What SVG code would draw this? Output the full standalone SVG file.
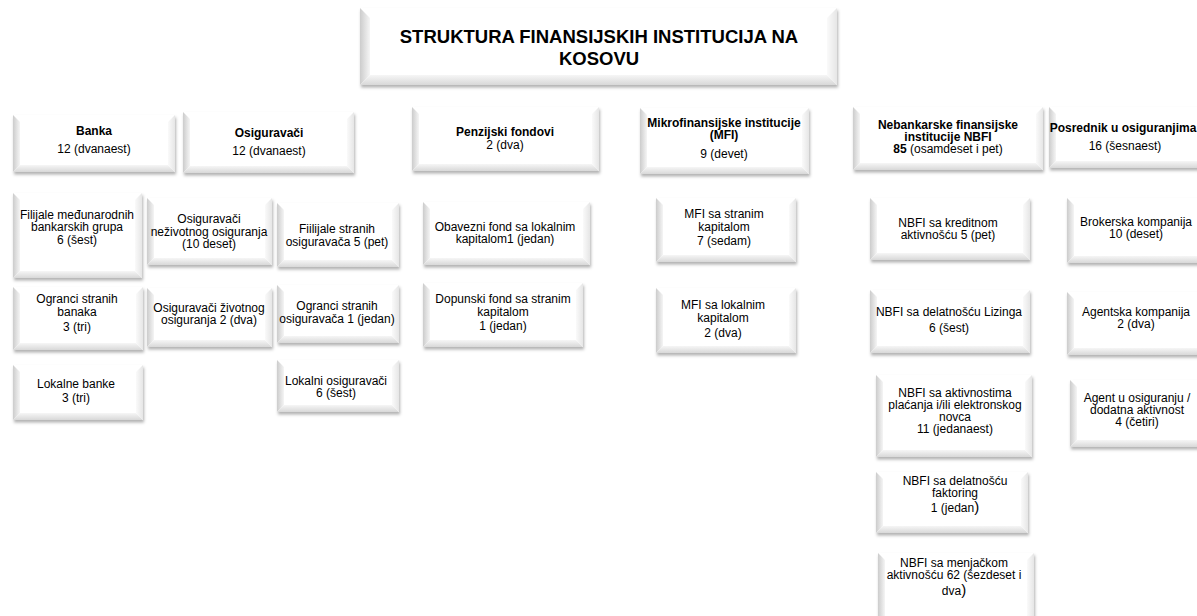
<svg xmlns="http://www.w3.org/2000/svg" width="1197" height="616" viewBox="0 0 1197 616">
<style>
.box{fill:#ffffff;filter:url(#sh)}
.bl{fill:url(#gl)}
.bb{fill:url(#gb)}
.br{fill:url(#gr)}
text{font-family:"Liberation Sans",Arial,sans-serif;font-size:12px;text-anchor:middle;fill:#000}
.b{font-weight:bold}
.ttl{font-size:18.5px;font-weight:bold}
.big{font-size:15px}
</style>
<defs>
<filter id="sh" x="-10%" y="-10%" width="125%" height="135%">
<feDropShadow dx="1" dy="2.5" stdDeviation="1.5" flood-color="#000" flood-opacity="0.3"/>
</filter>
<linearGradient id="gl" x1="0" y1="0" x2="1" y2="0"><stop offset="0" stop-color="#cccccc"/><stop offset="1" stop-color="#f5f5f5"/></linearGradient>
<linearGradient id="gb" x1="0" y1="0" x2="0" y2="1"><stop offset="0" stop-color="#f6f6f6"/><stop offset="1" stop-color="#d8d8d8"/></linearGradient>
<linearGradient id="gr" x1="0" y1="0" x2="1" y2="0"><stop offset="0" stop-color="#fafafa"/><stop offset="1" stop-color="#e6e6e6"/></linearGradient>
</defs>
<rect width="1197" height="616" fill="#ffffff"/>
<g id="connectors"></g>

<g id="title">
<rect class="box" x="360" y="8" width="477" height="77"/>
<polygon class="bl" points="360,8 370,18 370,75 360,85"/>
<polygon class="bb" points="360,85 370,75 827,75 837,85"/>
<polygon class="br" points="837,8 827,18 827,75 837,85"/>
<text class="ttl" x="599" y="43">STRUKTURA FINANSIJSKIH INSTITUCIJA NA</text>
<text class="ttl" x="599" y="65">KOSOVU</text>
</g>

<g id="banka">
<rect class="box" x="13" y="115" width="162" height="57"/>
<polygon class="bl" points="13,115 20,122 20,165 13,172"/>
<polygon class="bb" points="13,172 20,165 168,165 175,172"/>
<polygon class="br" points="175,115 168,122 168,165 175,172"/>
<text class="b" x="94" y="135">Banka</text>
<text x="94" y="153">12 (dvanaest)</text>
</g>

<g id="osiguravaci">
<rect class="box" x="183" y="112" width="171" height="61"/>
<polygon class="bl" points="183,112 190,119 190,166 183,173"/>
<polygon class="bb" points="183,173 190,166 347,166 354,173"/>
<polygon class="br" points="354,112 347,119 347,166 354,173"/>
<text class="b" x="269" y="137">Osiguravači</text>
<text x="269" y="155">12 (dvanaest)</text>
</g>

<g id="penzijski">
<rect class="box" x="412" y="107" width="187" height="64"/>
<polygon class="bl" points="412,107 419,114 419,164 412,171"/>
<polygon class="bb" points="412,171 419,164 592,164 599,171"/>
<polygon class="br" points="599,107 592,114 592,164 599,171"/>
<text class="b" x="505" y="136">Penzijski fondovi</text>
<text x="505" y="149">2 (dva)</text>
</g>

<g id="mfi">
<rect class="box" x="640" y="108" width="169" height="66"/>
<polygon class="bl" points="640,108 647,115 647,167 640,174"/>
<polygon class="bb" points="640,174 647,167 802,167 809,174"/>
<polygon class="br" points="809,108 802,115 802,167 809,174"/>
<text class="b" x="724" y="127">Mikrofinansijske institucije</text>
<text class="b" x="724" y="139">(MFI)</text>
<text x="724" y="158">9 (devet)</text>
</g>

<g id="nbfi">
<rect class="box" x="853" y="107" width="190" height="63"/>
<polygon class="bl" points="853,107 860,114 860,163 853,170"/>
<polygon class="bb" points="853,170 860,163 1036,163 1043,170"/>
<polygon class="br" points="1043,107 1036,114 1036,163 1043,170"/>
<text class="b" x="948" y="129">Nebankarske finansijske</text>
<text class="b" x="948" y="141">institucije NBFI</text>
<text x="948" y="153"><tspan class="b">85</tspan> (osamdeset i pet)</text>
</g>

<g id="posrednik">
<rect class="box" x="1049" y="107" width="155" height="61"/>
<polygon class="bl" points="1049,107 1056,114 1056,161 1049,168"/>
<polygon class="bb" points="1049,168 1056,161 1197,161 1204,168"/>
<polygon class="br" points="1204,107 1197,114 1197,161 1204,168"/>
<text class="b" x="1123" y="132">Posrednik u osiguranjima</text>
<text x="1125" y="150">16 (šesnaest)</text>
</g>

<g id="filijale-banke">
<rect class="box" x="13" y="193" width="129" height="85"/>
<polygon class="bl" points="13,193 20,200 20,271 13,278"/>
<polygon class="bb" points="13,278 20,271 135,271 142,278"/>
<polygon class="br" points="142,193 135,200 135,271 142,278"/>
<text x="77" y="219">Filijale međunarodnih</text>
<text x="77" y="231">bankarskih grupa</text>
<text x="77" y="244">6 (šest)</text>
</g>

<g id="nezivotno">
<rect class="box" x="147" y="198" width="125" height="67"/>
<polygon class="bl" points="147,198 154,205 154,258 147,265"/>
<polygon class="bb" points="147,265 154,258 265,258 272,265"/>
<polygon class="br" points="272,198 265,205 265,258 272,265"/>
<text x="209" y="223">Osiguravači</text>
<text x="209" y="236">neživotnog osiguranja</text>
<text x="209" y="248">(10 deset)</text>
</g>

<g id="filijale-osig">
<rect class="box" x="277" y="203" width="122" height="64"/>
<polygon class="bl" points="277,203 284,210 284,260 277,267"/>
<polygon class="bb" points="277,267 284,260 392,260 399,267"/>
<polygon class="br" points="399,203 392,210 392,260 399,267"/>
<text x="337" y="233">Fiilijale stranih</text>
<text x="337" y="246">osiguravača 5 (pet)</text>
</g>

<g id="ogranci-banaka">
<rect class="box" x="13" y="287" width="130" height="63"/>
<polygon class="bl" points="13,287 20,294 20,343 13,350"/>
<polygon class="bb" points="13,350 20,343 136,343 143,350"/>
<polygon class="br" points="143,287 136,294 136,343 143,350"/>
<text x="77" y="303">Ogranci stranih</text>
<text x="77" y="316">banaka</text>
<text x="77" y="331">3 (tri)</text>
</g>

<g id="zivotno">
<rect class="box" x="147" y="288" width="125" height="59"/>
<polygon class="bl" points="147,288 154,295 154,340 147,347"/>
<polygon class="bb" points="147,347 154,340 265,340 272,347"/>
<polygon class="br" points="272,288 265,295 265,340 272,347"/>
<text x="209" y="312">Osiguravači životnog</text>
<text x="209" y="324">osiguranja 2 (dva)</text>
</g>

<g id="ogranci-osig">
<rect class="box" x="277" y="285" width="122" height="58"/>
<polygon class="bl" points="277,285 284,292 284,336 277,343"/>
<polygon class="bb" points="277,343 284,336 392,336 399,343"/>
<polygon class="br" points="399,285 392,292 392,336 399,343"/>
<text x="337" y="310">Ogranci stranih</text>
<text x="337" y="323">osiguravača 1 (jedan)</text>
</g>

<g id="lokalne-banke">
<rect class="box" x="13" y="365" width="130" height="55"/>
<polygon class="bl" points="13,365 20,372 20,413 13,420"/>
<polygon class="bb" points="13,420 20,413 136,413 143,420"/>
<polygon class="br" points="143,365 136,372 136,413 143,420"/>
<text x="76" y="388">Lokalne banke</text>
<text x="76" y="402">3 (tri)</text>
</g>

<g id="lokalni-osig">
<rect class="box" x="277" y="360" width="122" height="52"/>
<polygon class="bl" points="277,360 284,367 284,405 277,412"/>
<polygon class="bb" points="277,412 284,405 392,405 399,412"/>
<polygon class="br" points="399,360 392,367 392,405 399,412"/>
<text x="336" y="385">Lokalni osiguravači</text>
<text x="336" y="397">6 (šest)</text>
</g>

<g id="obavezni">
<rect class="box" x="423" y="202" width="167" height="63"/>
<polygon class="bl" points="423,202 430,209 430,258 423,265"/>
<polygon class="bb" points="423,265 430,258 583,258 590,265"/>
<polygon class="br" points="590,202 583,209 583,258 590,265"/>
<text x="505" y="231">Obavezni fond sa lokalnim</text>
<text x="505" y="243">kapitalom1 (jedan)</text>
</g>

<g id="dopunski">
<rect class="box" x="423" y="283" width="160" height="64"/>
<polygon class="bl" points="423,283 430,290 430,340 423,347"/>
<polygon class="bb" points="423,347 430,340 576,340 583,347"/>
<polygon class="br" points="583,283 576,290 576,340 583,347"/>
<text x="503" y="303">Dopunski fond sa stranim</text>
<text x="503" y="316">kapitalom</text>
<text x="503" y="330">1 (jedan)</text>
</g>

<g id="mfi-strani">
<rect class="box" x="656" y="198" width="140" height="64"/>
<polygon class="bl" points="656,198 663,205 663,255 656,262"/>
<polygon class="bb" points="656,262 663,255 789,255 796,262"/>
<polygon class="br" points="796,198 789,205 789,255 796,262"/>
<text x="724" y="218">MFI sa stranim</text>
<text x="724" y="231">kapitalom</text>
<text x="724" y="245">7 (sedam)</text>
</g>

<g id="mfi-lokalni">
<rect class="box" x="656" y="288" width="140" height="65"/>
<polygon class="bl" points="656,288 663,295 663,346 656,353"/>
<polygon class="bb" points="656,353 663,346 789,346 796,353"/>
<polygon class="br" points="796,288 789,295 789,346 796,353"/>
<text x="723" y="309">MFI sa lokalnim</text>
<text x="723" y="322">kapitalom</text>
<text x="723" y="337">2 (dva)</text>
</g>

<g id="nbfi-kredit">
<rect class="box" x="870" y="198" width="160" height="62"/>
<polygon class="bl" points="870,198 877,205 877,253 870,260"/>
<polygon class="bb" points="870,260 877,253 1023,253 1030,260"/>
<polygon class="br" points="1030,198 1023,205 1023,253 1030,260"/>
<text x="948" y="227">NBFI sa kreditnom</text>
<text x="948" y="239">aktivnošću 5 (pet)</text>
</g>

<g id="brokerska">
<rect class="box" x="1067" y="198" width="140" height="65"/>
<polygon class="bl" points="1067,198 1074,205 1074,256 1067,263"/>
<polygon class="bb" points="1067,263 1074,256 1200,256 1207,263"/>
<polygon class="br" points="1207,198 1200,205 1200,256 1207,263"/>
<text x="1136" y="226">Brokerska kompanija</text>
<text x="1136" y="238">10 (deset)</text>
</g>

<g id="nbfi-lizing">
<rect class="box" x="870" y="290" width="160" height="63"/>
<polygon class="bl" points="870,290 877,297 877,346 870,353"/>
<polygon class="bb" points="870,353 877,346 1023,346 1030,353"/>
<polygon class="br" points="1030,290 1023,297 1023,346 1030,353"/>
<text x="949" y="316">NBFI sa delatnošću Lizinga</text>
<text x="949" y="332">6 (šest)</text>
</g>

<g id="agentska">
<rect class="box" x="1067" y="292" width="140" height="63"/>
<polygon class="bl" points="1067,292 1074,299 1074,348 1067,355"/>
<polygon class="bb" points="1067,355 1074,348 1200,348 1207,355"/>
<polygon class="br" points="1207,292 1200,299 1200,348 1207,355"/>
<text x="1136" y="316">Agentska kompanija</text>
<text x="1136" y="328">2 (dva)</text>
</g>

<g id="nbfi-placanja">
<rect class="box" x="876" y="375" width="156" height="82"/>
<polygon class="bl" points="876,375 883,382 883,450 876,457"/>
<polygon class="bb" points="876,457 883,450 1025,450 1032,457"/>
<polygon class="br" points="1032,375 1025,382 1025,450 1032,457"/>
<text x="955" y="397">NBFI sa aktivnostima</text>
<text x="955" y="409">plaćanja i/ili elektronskog</text>
<text x="955" y="421">novca</text>
<text x="955" y="433">11 (jedanaest)</text>
</g>

<g id="nbfi-faktoring">
<rect class="box" x="876" y="472" width="152" height="61"/>
<polygon class="bl" points="876,472 883,479 883,526 876,533"/>
<polygon class="bb" points="876,533 883,526 1021,526 1028,533"/>
<polygon class="br" points="1028,472 1021,479 1021,526 1028,533"/>
<text x="955" y="485">NBFI sa delatnošću</text>
<text x="955" y="497">faktoring</text>
<text x="955" y="512">1 (jedan<tspan class="big">)</tspan></text>
</g>

<g id="nbfi-menjacka">
<rect class="box" x="878" y="553" width="156" height="70"/>
<polygon class="bl" points="878,553 885,560 885,616 878,623"/>
<polygon class="bb" points="878,623 885,616 1027,616 1034,623"/>
<polygon class="br" points="1034,553 1027,560 1027,616 1034,623"/>
<text x="954" y="567">NBFI sa menjačkom</text>
<text x="954" y="579">aktivnošću 62 (šezdeset i</text>
<text x="954" y="595">dva<tspan class="big">)</tspan></text>
</g>

<g id="agent">
<rect class="box" x="1070" y="380" width="135" height="67"/>
<polygon class="bl" points="1070,380 1077,387 1077,440 1070,447"/>
<polygon class="bb" points="1070,447 1077,440 1198,440 1205,447"/>
<polygon class="br" points="1205,380 1198,387 1198,440 1205,447"/>
<text x="1137" y="402">Agent u osiguranju /</text>
<text x="1137" y="414">dodatna aktivnost</text>
<text x="1137" y="426">4 (četiri)</text>
</g>
</svg>
